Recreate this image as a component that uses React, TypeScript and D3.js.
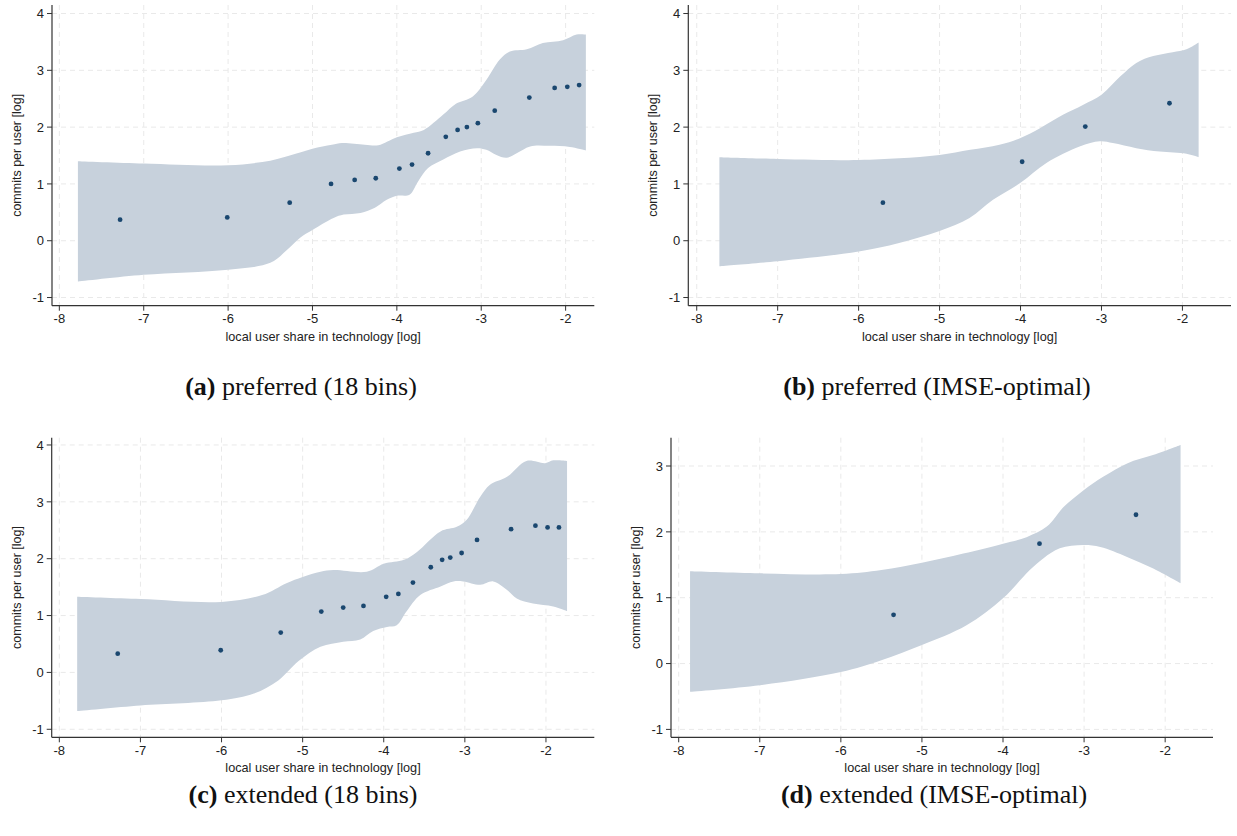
import React from "react";
import * as d3 from "d3";

// ---------- data ----------
const xTicks = [-8, -7, -6, -5, -4, -3, -2];
const yTicksMain = [-1, 0, 1, 2, 3, 4];
const yTicksD = [-1, 0, 1, 2, 3];

const xTitle = "local user share in technology [log]";
const yTitle = "commits per user [log]";

// Panel (a) preferred, 18 bins
const aPointX = [-7.28, -6.01, -5.27, -4.78, -4.5, -4.25, -3.97, -3.82, -3.63, -3.42, -3.28, -3.17, -3.04, -2.84, -2.43, -2.13, -1.98, -1.84];
const aPointY = [0.37, 0.41, 0.67, 1.0, 1.07, 1.1, 1.27, 1.34, 1.54, 1.83, 1.95, 2.0, 2.07, 2.29, 2.52, 2.69, 2.71, 2.74];
const aUpperX = [-7.78, -7, -6, -5.5, -5.2, -5.0, -4.77, -4.65, -4.38, -4.22, -4.0, -3.8, -3.68, -3.45, -3.3, -3.1, -2.94, -2.78, -2.66, -2.46, -2.27, -2.03, -1.87, -1.76];
const aUpperY = [1.4, 1.36, 1.33, 1.41, 1.53, 1.62, 1.69, 1.72, 1.69, 1.68, 1.82, 1.9, 1.95, 2.22, 2.41, 2.54, 2.83, 3.19, 3.33, 3.37, 3.48, 3.53, 3.63, 3.63];
const aLowerX = [-7.78, -7, -6, -5.5, -5.3, -5.15, -5.0, -4.75, -4.63, -4.43, -4.26, -4.12, -4.0, -3.85, -3.75, -3.63, -3.45, -3.25, -3.05, -2.94, -2.82, -2.7, -2.58, -2.42, -2.19, -1.95, -1.76];
const aLowerY = [-0.72, -0.6, -0.51, -0.39, -0.16, 0.05, 0.19, 0.4, 0.46, 0.49, 0.58, 0.72, 0.79, 0.81, 1.04, 1.28, 1.43, 1.57, 1.63, 1.6, 1.51, 1.46, 1.54, 1.66, 1.67, 1.65, 1.59];

// Panel (b) preferred, IMSE-optimal
const bPointX = [-5.7, -3.98, -3.2, -2.16];
const bPointY = [0.67, 1.39, 2.01, 2.42];
const bUpperX = [-7.72, -7, -6, -5.5, -5.0, -4.62, -4.26, -4.0, -3.76, -3.47, -3.23, -3.0, -2.77, -2.57, -2.36, -2.12, -1.95, -1.8];
const bUpperY = [1.47, 1.44, 1.42, 1.45, 1.51, 1.6, 1.69, 1.81, 1.98, 2.22, 2.39, 2.57, 2.89, 3.13, 3.25, 3.32, 3.37, 3.49];
const bLowerX = [-7.72, -7, -6, -5.5, -5.0, -4.63, -4.34, -4.0, -3.68, -3.27, -3.02, -2.86, -2.57, -2.28, -1.95, -1.8];
const bLowerY = [-0.45, -0.36, -0.19, -0.04, 0.17, 0.4, 0.72, 1.02, 1.37, 1.66, 1.75, 1.72, 1.63, 1.57, 1.53, 1.47];

// Panel (c) extended, 18 bins
const cPointX = [-7.28, -6.01, -5.27, -4.77, -4.5, -4.25, -3.97, -3.82, -3.64, -3.42, -3.28, -3.18, -3.04, -2.85, -2.43, -2.13, -1.98, -1.84];
const cPointY = [0.33, 0.39, 0.7, 1.07, 1.14, 1.17, 1.33, 1.38, 1.58, 1.85, 1.98, 2.02, 2.1, 2.33, 2.52, 2.58, 2.55, 2.55];
const cUpperX = [-7.78, -7, -6, -5.5, -5.2, -5.0, -4.78, -4.62, -4.21, -4.0, -3.75, -3.59, -3.3, -3.1, -2.98, -2.81, -2.69, -2.48, -2.24, -2.01, -1.91, -1.74];
const cUpperY = [1.33, 1.29, 1.24, 1.36, 1.57, 1.68, 1.77, 1.8, 1.77, 1.91, 1.98, 2.12, 2.48, 2.56, 2.68, 3.09, 3.3, 3.44, 3.72, 3.68, 3.73, 3.72];
const cLowerX = [-7.78, -7, -6, -5.6, -5.3, -5.05, -4.78, -4.5, -4.29, -4.13, -3.96, -3.84, -3.72, -3.55, -3.3, -3.14, -3.02, -2.81, -2.65, -2.48, -2.36, -2.16, -1.91, -1.74];
const cLowerY = [-0.68, -0.58, -0.49, -0.37, -0.14, 0.2, 0.45, 0.54, 0.58, 0.73, 0.8, 0.83, 1.07, 1.36, 1.51, 1.6, 1.6, 1.54, 1.6, 1.45, 1.3, 1.21, 1.16, 1.08];

// Panel (d) extended, IMSE-optimal
const dPointX = [-5.35, -3.55, -2.36];
const dPointY = [0.74, 1.82, 2.26];
const dUpperX = [-7.86, -7, -6, -5.5, -5.0, -4.49, -4.0, -3.71, -3.46, -3.25, -3.01, -2.76, -2.47, -2.14, -1.81];
const dUpperY = [1.4, 1.37, 1.36, 1.42, 1.53, 1.67, 1.82, 1.92, 2.08, 2.38, 2.63, 2.84, 3.04, 3.17, 3.32];
const dLowerX = [-7.86, -7, -6, -5.5, -5.0, -4.45, -4.0, -3.67, -3.5, -3.3, -3.01, -2.8, -2.47, -2.14, -1.81];
const dLowerY = [-0.43, -0.33, -0.13, 0.05, 0.28, 0.58, 0.99, 1.42, 1.6, 1.75, 1.8, 1.77, 1.62, 1.44, 1.22];

const captionTags = ["(a)", "(b)", "(c)", "(d)"];
const captionTexts = [" preferred (18 bins)", " preferred (IMSE-optimal)", " extended (18 bins)", " extended (IMSE-optimal)"];

// ---------- styles ----------
const BAND = "#c7d1dc";
const DOT = "#1a476f";
const GRID = "#e9e9e9";
const AXIS = "#333";
const SANS = "'Liberation Sans', Arial, Helvetica, sans-serif";
const SERIF = "'Liberation Serif', 'Times New Roman', serif";

type PanelProps = {
  left: number; right: number; top: number; bottom: number;
  xDom: [number, number]; yDom: [number, number];
  yTicks: number[];
  px: number[]; py: number[];
  ux: number[]; uy: number[];
  lx: number[]; ly: number[];
};

function Panel(p: PanelProps) {
  const x = d3.scaleLinear().domain(p.xDom).range([p.left, p.right]);
  const y = d3.scaleLinear().domain(p.yDom).range([p.bottom, p.top]);
  const line = d3.line<[number, number]>().x(d => x(d[0])).y(d => y(d[1])).curve(d3.curveCatmullRom.alpha(0.5));
  const upper: [number, number][] = p.ux.map((v, i) => [v, p.uy[i]]);
  const lowerRev: [number, number][] = p.lx.map((v, i) => [v, p.ly[i]] as [number, number]).reverse();
  const bandPath = (line(upper) || "") + (line(lowerRev) || "").replace(/^M/, "L") + "Z";

  const midX = (p.left + p.right) / 2;
  const midY = (p.top + p.bottom) / 2;
  return (
    <g>
      {xTicks.map(t => (
        <line key={"gx" + t} x1={x(t)} x2={x(t)} y1={p.top} y2={p.bottom} stroke={GRID} strokeDasharray="5,4" strokeWidth={1} />
      ))}
      {p.yTicks.map(t => (
        <line key={"gy" + t} x1={p.left} x2={p.right} y1={y(t)} y2={y(t)} stroke={GRID} strokeDasharray="5,4" strokeWidth={1} />
      ))}
      <path d={bandPath} fill={BAND} stroke="none" />
      {p.px.map((v, i) => (
        <circle key={"pt" + i} cx={x(v)} cy={y(p.py[i])} r={2.4} fill={DOT} />
      ))}
      <line x1={p.left} x2={p.left} y1={p.top} y2={p.bottom} stroke={AXIS} strokeWidth={1.2} />
      <line x1={p.left} x2={p.right} y1={p.bottom} y2={p.bottom} stroke={AXIS} strokeWidth={1.2} />
      {xTicks.map(t => (
        <g key={"tx" + t}>
          <line x1={x(t)} x2={x(t)} y1={p.bottom} y2={p.bottom + 5} stroke={AXIS} strokeWidth={1} />
          <text x={x(t)} y={p.bottom + 17.5} textAnchor="middle" fontFamily={SANS} fontSize={13} fill="#222">{t}</text>
        </g>
      ))}
      {p.yTicks.map(t => (
        <g key={"ty" + t}>
          <line x1={p.left - 5} x2={p.left} y1={y(t)} y2={y(t)} stroke={AXIS} strokeWidth={1} />
          <text x={p.left - 8} y={y(t) + 4.7} textAnchor="end" fontFamily={SANS} fontSize={13} fill="#222">{t}</text>
        </g>
      ))}
      <text x={midX} y={p.bottom + 35} textAnchor="middle" fontFamily={SANS} fontSize={12.7} fill="#222">{xTitle}</text>
      <text transform={`translate(${p.left - 31},${midY}) rotate(-90)`} textAnchor="middle" fontFamily={SANS} fontSize={12.5} fill="#222">{yTitle}</text>
    </g>
  );
}

function Caption({ cx, y, i }: { cx: number; y: number; i: number }) {
  return (
    <text x={cx} y={y} textAnchor="middle" fontFamily={SERIF} fontSize={26} fill="#111">
      <tspan fontWeight="bold">{captionTags[i]}</tspan>
      <tspan>{captionTexts[i]}</tspan>
    </text>
  );
}

export default function App() {
  return (
    <svg width={1237} height={836} style={{ position: "absolute", left: 0, top: 0, display: "block", background: "#fff" }}>
      <rect width={1237} height={836} fill="#fff" />
      <Panel left={52} right={594.3} top={5} bottom={305.7} xDom={[-8.087, -1.66]} yDom={[-1.144, 4.15]} yTicks={yTicksMain}
        px={aPointX} py={aPointY} ux={aUpperX} uy={aUpperY} lx={aLowerX} ly={aLowerY} />
      <Panel left={688.3} right={1231} top={5} bottom={305.7} xDom={[-8.104, -1.4]} yDom={[-1.144, 4.15]} yTicks={yTicksMain}
        px={bPointX} py={bPointY} ux={bUpperX} uy={bUpperY} lx={bLowerX} ly={bLowerY} />
      <Panel left={51.7} right={594.3} top={437.7} bottom={737.3} xDom={[-8.094, -1.404]} yDom={[-1.141, 4.128]} yTicks={yTicksMain}
        px={cPointX} py={cPointY} ux={cUpperX} uy={cUpperY} lx={cLowerX} ly={cLowerY} />
      <Panel left={671} right={1213} top={437.7} bottom={737.3} xDom={[-8.095, -1.41]} yDom={[-1.12, 3.43]} yTicks={yTicksD}
        px={dPointX} py={dPointY} ux={dUpperX} uy={dUpperY} lx={dLowerX} ly={dLowerY} />
      <Caption cx={301} y={395} i={0} />
      <Caption cx={937} y={395} i={1} />
      <Caption cx={303} y={803} i={2} />
      <Caption cx={934} y={803} i={3} />
    </svg>
  );
}
